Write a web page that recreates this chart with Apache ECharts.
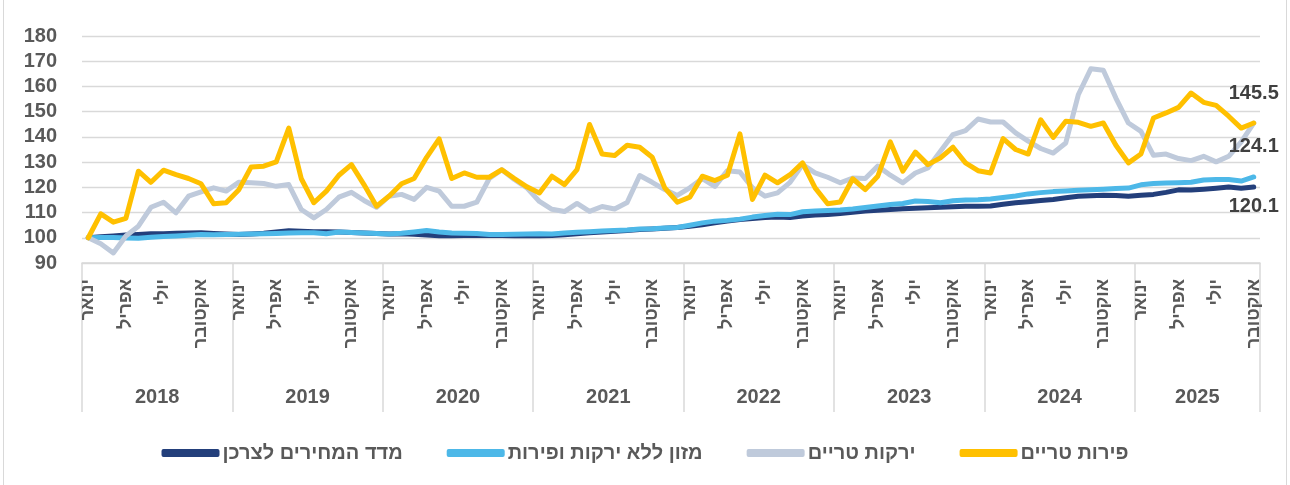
<!DOCTYPE html>
<html>
<head>
<meta charset="utf-8">
<script src="https://cdn.jsdelivr.net/npm/echarts@6/dist/echarts.min.js"></script>
<style>
  html, body { margin: 0; padding: 0; background: #fff; }
  #chart { width: 1290px; height: 485px; }
</style>
</head>
<body>
<div id="chart"></div>
<script>
// month labels shown under the axis (only every 3rd month)
const monthNames = ['ינואר', '', '', 'אפריל', '', '', 'יולי', '', '', 'אוקטובר', '', '']
const years = ['2018', '2019', '2020', '2021', '2022', '2023', '2024', '2025']
const lastYearMonths = 10

const seriesNames = ['מדד המחירים לצרכן', 'מזון ללא ירקות ופירות', 'ירקות טריים', 'פירות טריים']

const cpi = [
  100.0, 100.4, 100.7, 101.1, 101.3, 101.6, 101.6, 101.8, 101.9, 102.0, 101.7, 101.5,
  101.3, 101.5, 101.8, 102.3, 102.8, 102.6, 102.4, 102.4, 102.3, 102.1, 101.9, 101.7,
  101.5, 101.6, 101.4, 101.1, 100.8, 100.8, 100.9, 101.0, 100.9, 100.9, 100.8, 100.8,
  100.8, 100.9, 101.2, 101.6, 102.0, 102.3, 102.6, 102.9, 103.3, 103.5, 103.8, 104.1,
  104.6, 105.2, 105.9, 106.6, 107.2, 107.6, 108.0, 108.2, 108.0, 108.6, 109.0, 109.2,
  109.6, 110.1, 110.6, 110.9, 111.2, 111.5, 111.7, 111.9, 112.1, 112.3, 112.5, 112.5,
  112.6, 113.3, 113.9, 114.3, 114.8, 115.2, 115.9, 116.5, 116.7, 116.9, 116.8, 116.5,
  116.9, 117.2, 118.0, 119.0, 118.9, 119.2, 119.6, 120.1, 119.6, 120.1
]
const food = [
  100.0, 100.1, 100.1, 99.9, 99.8, 100.2, 100.5, 100.7, 101.0, 101.3, 101.2, 101.3,
  101.4, 101.5, 101.6, 101.7, 101.9, 102.0, 102.0, 101.6, 102.3, 102.1, 101.9, 101.7,
  101.5, 101.8, 102.3, 102.9, 102.3, 101.9, 101.8, 101.7, 101.3, 101.3, 101.4, 101.5,
  101.6, 101.5, 101.9, 102.2, 102.4, 102.7, 102.9, 103.1, 103.5, 103.6, 103.9, 104.1,
  105.0, 105.9, 106.6, 106.9, 107.4, 108.2, 108.8, 109.3, 109.2, 110.3, 110.6, 110.8,
  111.0, 111.4, 112.0, 112.6, 113.2, 113.6, 114.6, 114.4, 113.9, 114.7, 115.0, 115.1,
  115.4, 116.0, 116.6, 117.4, 117.9, 118.3, 118.5, 118.8, 119.0, 119.2, 119.5, 119.7,
  121.0, 121.5, 121.7, 121.8, 122.0, 122.9, 123.1, 123.1, 122.5, 124.1
]
const veg = [
  100.0, 97.6, 94.0, 100.7, 104.6, 112.1, 114.1, 109.9, 116.5, 118.2, 119.8, 118.5,
  122.0, 121.8, 121.5, 120.4, 121.1, 111.2, 107.9, 111.2, 116.1, 118.0, 114.8, 112.1,
  116.5, 117.2, 115.2, 120.0, 118.5, 112.5, 112.5, 114.1, 123.5, 127.0, 123.1, 119.8,
  114.4, 111.3, 110.4, 113.6, 110.5, 112.4, 111.4, 114.0, 124.7, 122.0, 119.1, 116.8,
  119.8, 123.5, 120.4, 126.6, 126.1, 119.8, 116.5, 117.8, 122.0, 129.0, 125.7, 124.0,
  121.8, 123.7, 123.5, 128.4, 124.8, 121.8, 125.7, 127.7, 134.3, 140.9, 142.5, 147.1,
  145.9, 145.9, 141.6, 138.3, 135.4, 133.6, 137.6, 156.7, 167.0, 166.4, 155.4, 145.5,
  142.2, 132.7, 133.2, 131.4, 130.6, 132.3, 130.1, 132.3, 138.0, 145.5
]
const fruit = [
  100.0, 109.5, 106.2, 107.7, 126.4, 122.0, 126.8, 125.0, 123.5, 121.4, 113.5, 113.9,
  118.9, 128.1, 128.4, 130.1, 143.5, 123.4, 113.9, 118.5, 124.8, 129.0, 121.1, 112.5,
  116.5, 121.4, 123.5, 131.9, 139.2, 123.5, 125.7, 124.0, 124.0, 127.0, 123.5, 120.2,
  117.8, 124.4, 121.1, 127.0, 144.9, 133.2, 132.6, 136.7, 135.9, 131.9, 119.8, 114.1,
  116.1, 124.4, 122.7, 124.8, 141.2, 115.2, 124.8, 121.8, 125.0, 129.7, 119.8, 113.5,
  114.2, 123.4, 119.1, 124.4, 138.0, 126.4, 134.0, 129.0, 131.7, 135.9, 129.7, 126.6,
  125.7, 139.3, 135.0, 133.2, 146.8, 139.8, 146.2, 145.8, 144.2, 145.5, 136.7, 129.7,
  133.2, 147.5, 149.5, 151.7, 157.4, 153.7, 152.5, 148.2, 143.5, 145.5
]

const colors = ['#233f7b', '#4db8e8', '#bfcadb', '#ffc000']
const fontFamily = "'Liberation Sans', 'DejaVu Sans', sans-serif"

// build category axis (one entry per month) + label lookups
const categories = []
const monthLabel = []
const yearLabel = []
years.forEach((y, yi) => {
  const n = yi === years.length - 1 ? lastYearMonths : 12
  for (let m = 0; m < n; m++) {
    categories.push(y + '-' + (m + 1))
    monthLabel.push(monthNames[m])
    // year name sits on the month just right of the year's middle
    yearLabel.push(m === Math.floor(n / 2) ? y : '')
  }
})

// only the last point gets a value label
function withEndLabel(arr, position, distance) {
  return arr.map((v, i) => {
    if (i !== arr.length - 1) return v
    return {
      value: v,
      label: {
        show: true,
        position: position,
        distance: distance,
        formatter: v.toFixed(1),
        color: '#404040',
        fontSize: 20,
        fontWeight: 'bold',
        fontFamily: fontFamily
      }
    }
  })
}

const chart = echarts.init(document.getElementById('chart'))

// symbols kept (size 0) so the end labels have something to hang on
const lineSeries = (name, data, color) => ({
  name: name,
  type: 'line',
  data: data,
  symbol: 'circle',
  symbolSize: 0,
  showSymbol: true,
  smooth: false,
  lineStyle: { color: color, width: 5, join: 'round', cap: 'round' },
  itemStyle: { color: color },
  label: { show: false },
  emphasis: { disabled: true }
})

chart.setOption({
  animation: false,
  color: colors,
  grid: { left: 82, right: 30, top: 36, bottom: 222 },
  graphic: [
    { type: 'line', shape: { x1: 3.5, y1: 0, x2: 3.5, y2: 485 }, style: { stroke: '#d9d9d9', lineWidth: 1 } },
    { type: 'line', shape: { x1: 1286.5, y1: 0, x2: 1286.5, y2: 485 }, style: { stroke: '#d9d9d9', lineWidth: 1 } }
  ],
  legend: {
    data: seriesNames,
    left: 'center',
    top: 438,
    icon: 'roundRect',
    itemWidth: 58,
    itemHeight: 8,
    itemGap: 44,
    textStyle: { color: '#595959', fontSize: 20, fontWeight: 'bold', fontFamily: fontFamily, padding: [0, 0, 0, -2] }
  },
  xAxis: [{
    type: 'category',
    data: categories,
    boundaryGap: true,
    axisLine: { show: true, lineStyle: { color: '#d9d9d9', width: 1.5 } },
    axisTick: {
      show: true,
      interval: (index) => index % 12 === 0,
      length: 149,
      lineStyle: { color: '#d9d9d9', width: 1.5 }
    },
    axisLabel: {
      interval: 0,
      rotate: 90,
      margin: 16,
      formatter: (value, index) => monthLabel[index],
      color: '#595959',
      fontSize: 18,
      fontWeight: 'bold',
      fontFamily: fontFamily
    },
    splitLine: { show: false }
  }, {
    type: 'category',
    data: categories,
    position: 'bottom',
    boundaryGap: true,
    axisLine: { show: false },
    axisTick: { show: false },
    axisLabel: {
      interval: 0,
      margin: 124,
      padding: [0, 12.5, 0, 0],
      formatter: (value, index) => yearLabel[index],
      color: '#595959',
      fontSize: 20,
      fontWeight: 'bold',
      fontFamily: fontFamily
    }
  }],
  yAxis: {
    type: 'value',
    min: 90,
    max: 180,
    interval: 10,
    axisLine: { show: false },
    axisTick: { show: false },
    axisLabel: {
      margin: 25,
      color: '#595959',
      fontSize: 20,
      fontWeight: 'bold',
      fontFamily: fontFamily
    },
    splitLine: { lineStyle: { color: '#d9d9d9', width: 1.3 } }
  },
  series: [
    lineSeries(seriesNames[0], withEndLabel(cpi, 'bottom', 9), colors[0]),
    lineSeries(seriesNames[1], withEndLabel(food, 'top', 21), colors[1]),
    lineSeries(seriesNames[2], veg, colors[2]),
    lineSeries(seriesNames[3], withEndLabel(fruit, 'top', 20), colors[3])
  ]
})
</script>
</body>
</html>
